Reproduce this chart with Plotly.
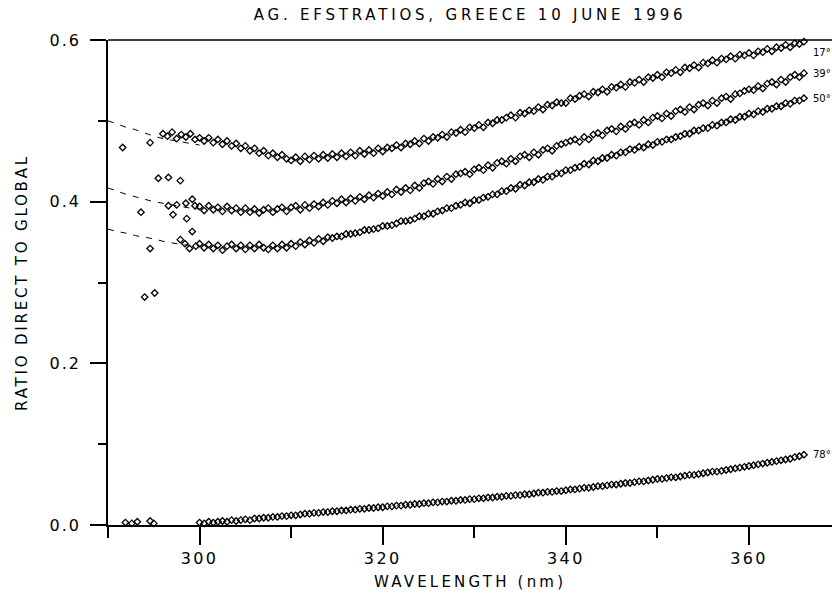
import numpy as np
import plotly.graph_objects as go

# Wavelength grid of the measured spectra (nm)
wavelength = np.arange(300.0, 366.01, 0.5)

# Direct-to-global irradiance ratio, one list per solar zenith angle
ratio_17 = [
    0.479, 0.475, 0.479, 0.473, 0.477, 0.471, 0.475, 0.469, 0.472, 0.466,
    0.469, 0.463, 0.466, 0.460, 0.463, 0.457, 0.460, 0.455, 0.458, 0.453,
    0.451, 0.455, 0.450, 0.456, 0.452, 0.457, 0.453, 0.458, 0.454, 0.459,
    0.455, 0.460, 0.456, 0.461, 0.457, 0.463, 0.459, 0.464, 0.460, 0.466,
    0.462, 0.467, 0.466, 0.470, 0.467, 0.472, 0.471, 0.475, 0.472, 0.478,
    0.475, 0.480, 0.479, 0.483, 0.480, 0.486, 0.485, 0.489, 0.486, 0.492,
    0.491, 0.495, 0.492, 0.498, 0.497, 0.501, 0.501, 0.504, 0.507, 0.504,
    0.510, 0.509, 0.513, 0.512, 0.517, 0.514, 0.520, 0.519, 0.523, 0.522,
    0.522, 0.528, 0.527, 0.531, 0.533, 0.530, 0.536, 0.535, 0.539, 0.536,
    0.542, 0.541, 0.545, 0.542, 0.548, 0.547, 0.551, 0.548, 0.554, 0.553,
    0.557, 0.554, 0.560, 0.559, 0.563, 0.560, 0.566, 0.565, 0.569, 0.566,
    0.572, 0.571, 0.575, 0.572, 0.577, 0.576, 0.580, 0.577, 0.582, 0.581,
    0.584, 0.581, 0.586, 0.585, 0.589, 0.586, 0.591, 0.590, 0.594, 0.591,
    0.596, 0.595, 0.598,
]
ratio_39 = [
    0.394, 0.389, 0.395, 0.390, 0.393, 0.388, 0.394, 0.389, 0.392, 0.387,
    0.392, 0.387, 0.391, 0.386, 0.390, 0.392, 0.387, 0.391, 0.393, 0.388,
    0.393, 0.395, 0.390, 0.396, 0.392, 0.397, 0.394, 0.399, 0.396, 0.401,
    0.398, 0.403, 0.399, 0.404, 0.401, 0.406, 0.403, 0.408, 0.405, 0.410,
    0.407, 0.412, 0.409, 0.415, 0.412, 0.417, 0.414, 0.420, 0.417, 0.423,
    0.425, 0.422, 0.428, 0.425, 0.431, 0.428, 0.434, 0.435, 0.437, 0.434,
    0.440, 0.442, 0.439, 0.445, 0.442, 0.448, 0.450, 0.447, 0.453, 0.450,
    0.456, 0.458, 0.455, 0.461, 0.458, 0.464, 0.466, 0.463, 0.469, 0.471,
    0.473, 0.475, 0.477, 0.474, 0.480, 0.477, 0.483, 0.485, 0.482, 0.488,
    0.490, 0.487, 0.493, 0.490, 0.496, 0.498, 0.495, 0.501, 0.498, 0.504,
    0.506, 0.503, 0.509, 0.506, 0.512, 0.514, 0.511, 0.517, 0.514, 0.520,
    0.522, 0.519, 0.525, 0.522, 0.528, 0.530, 0.527, 0.533, 0.534, 0.537,
    0.539, 0.538, 0.543, 0.540, 0.546, 0.548, 0.545, 0.551, 0.548, 0.554,
    0.557, 0.554, 0.559,
]
ratio_50 = [
    0.348, 0.343, 0.347, 0.342, 0.346, 0.340, 0.345, 0.347, 0.342, 0.346,
    0.341, 0.346, 0.342, 0.347, 0.343, 0.341, 0.346, 0.342, 0.347, 0.343,
    0.348, 0.345, 0.350, 0.347, 0.352, 0.349, 0.354, 0.351, 0.356, 0.355,
    0.357, 0.357, 0.360, 0.360, 0.361, 0.362, 0.365, 0.365, 0.366, 0.367,
    0.370, 0.370, 0.371, 0.373, 0.376, 0.376, 0.377, 0.379, 0.382, 0.382,
    0.385, 0.385, 0.388, 0.389, 0.392, 0.392, 0.395, 0.396, 0.399, 0.398,
    0.402, 0.402, 0.405, 0.406, 0.409, 0.409, 0.413, 0.413, 0.417, 0.416,
    0.421, 0.420, 0.424, 0.424, 0.428, 0.427, 0.431, 0.431, 0.435, 0.435,
    0.439, 0.439, 0.442, 0.443, 0.447, 0.446, 0.451, 0.450, 0.454, 0.454,
    0.458, 0.457, 0.461, 0.461, 0.465, 0.464, 0.468, 0.467, 0.471, 0.470,
    0.474, 0.474, 0.477, 0.477, 0.480, 0.481, 0.484, 0.484, 0.488, 0.488,
    0.491, 0.491, 0.495, 0.494, 0.498, 0.498, 0.502, 0.501, 0.505, 0.505,
    0.509, 0.508, 0.512, 0.511, 0.515, 0.515, 0.518, 0.518, 0.522, 0.521,
    0.525, 0.525, 0.528,
]
ratio_78 = [
    0.003, 0.002, 0.004, 0.003, 0.004, 0.005, 0.004, 0.006, 0.005, 0.006,
    0.007, 0.006, 0.008, 0.008, 0.009, 0.009, 0.010, 0.010, 0.011, 0.011,
    0.012, 0.012, 0.013, 0.014, 0.014, 0.015, 0.015, 0.016, 0.016, 0.017,
    0.017, 0.018, 0.018, 0.019, 0.019, 0.020, 0.020, 0.021, 0.021, 0.022,
    0.022, 0.023, 0.023, 0.024, 0.024, 0.025, 0.025, 0.026, 0.026, 0.027,
    0.027, 0.028, 0.028, 0.029, 0.029, 0.030, 0.030, 0.031, 0.031, 0.032,
    0.032, 0.033, 0.033, 0.034, 0.034, 0.035, 0.035, 0.036, 0.036, 0.037,
    0.037, 0.038, 0.038, 0.039, 0.040, 0.040, 0.041, 0.041, 0.042, 0.042,
    0.043, 0.044, 0.044, 0.045, 0.046, 0.046, 0.047, 0.048, 0.048, 0.049,
    0.050, 0.050, 0.051, 0.052, 0.052, 0.053, 0.054, 0.054, 0.055, 0.056,
    0.057, 0.057, 0.058, 0.059, 0.059, 0.060, 0.061, 0.062, 0.062, 0.063,
    0.064, 0.065, 0.066, 0.066, 0.067, 0.068, 0.069, 0.070, 0.071, 0.072,
    0.073, 0.074, 0.075, 0.076, 0.077, 0.078, 0.079, 0.080, 0.081, 0.082,
    0.084, 0.085, 0.087,
]

# Short-wavelength measurements (noisy, below 300 nm)
short_wl_17 = [291.6, 294.6, 295.5, 296.0, 296.5, 296.6, 297.0, 297.5, 297.9, 298.0, 298.5, 299.0, 299.5]
short_17 = [0.467, 0.473, 0.429, 0.484, 0.481, 0.430, 0.486, 0.478, 0.426, 0.483, 0.480, 0.484, 0.477]
short_wl_39 = [293.6, 296.6, 297.1, 297.5, 298.5, 298.6, 299.2, 299.5]
short_39 = [0.387, 0.395, 0.384, 0.396, 0.398, 0.379, 0.403, 0.395]
short_wl_50 = [294.0, 294.6, 295.1, 297.9, 298.4, 298.9, 299.2, 299.6]
short_50 = [0.282, 0.342, 0.287, 0.353, 0.348, 0.342, 0.363, 0.345]
short_wl_78 = [291.9, 292.6, 293.2, 294.6, 295.0]
short_78 = [0.003, 0.002, 0.004, 0.005, 0.002]

# Model curves extrapolated below 300 nm (dashed)
model_wl = [290, 291, 292, 293, 294, 295, 296, 297, 298, 299, 300]
model_17 = [0.500, 0.496, 0.492, 0.489, 0.485, 0.481, 0.478, 0.476, 0.474, 0.472, 0.470]
model_39 = [0.417, 0.413, 0.409, 0.406, 0.403, 0.400, 0.398, 0.396, 0.394, 0.392, 0.391]
model_50 = [0.366, 0.363, 0.361, 0.358, 0.356, 0.354, 0.351, 0.349, 0.347, 0.346, 0.345]

# Zenith angle labels at the right end of each curve
angle_labels = ["17°", "39°", "50°", "78°"]
label_x = 366.8
label_y = [0.585, 0.559, 0.528, 0.087]

FONT = "DejaVu Sans, Verdana, sans-serif"
marker = dict(symbol="diamond-open", size=5, color="black", line=dict(width=1.3, color="black"))

fig = go.Figure()

for wl_s, val_s, vals in [
    (short_wl_17, short_17, ratio_17),
    (short_wl_39, short_39, ratio_39),
    (short_wl_50, short_50, ratio_50),
    (short_wl_78, short_78, ratio_78),
]:
    fig.add_trace(go.Scatter(x=wavelength, y=vals, mode="markers", marker=marker,
                             cliponaxis=False, showlegend=False))
    fig.add_trace(go.Scatter(x=wl_s, y=val_s, mode="markers", marker=marker,
                             cliponaxis=False, showlegend=False))

for model in (model_17, model_39, model_50):
    fig.add_trace(go.Scatter(x=model_wl, y=model, mode="lines",
                             line=dict(color="black", width=1, dash="6px,7px"),
                             showlegend=False))

for text, yv in zip(angle_labels, label_y):
    fig.add_annotation(x=label_x, xref="x", xanchor="left",
                       y=yv, yref="y", yanchor="middle", text=text,
                       showarrow=False, font=dict(family=FONT, size=10, color="black"))

# X-axis caption, centred under the visible part of the axis
fig.add_annotation(text="WAVELENGTH (nm)", xref="paper", x=(470 - 108) / 742, xanchor="center",
                   yref="paper", y=0, yanchor="top", yshift=-46, showarrow=False,
                   font=dict(family=FONT, size=15, color="black"))

# Frame line along the top of the plotting area
fig.add_shape(type="line", xref="paper", yref="paper", x0=0, x1=1, y0=1, y1=1,
              line=dict(color="black", width=1.5))

# The plotting area runs on past the right edge of the 832 px view
fig.update_layout(
    width=850, height=600,
    margin=dict(l=108, r=0, t=40, b=75),
    paper_bgcolor="white", plot_bgcolor="white",
    title=dict(text="AG. EFSTRATIOS, GREECE 10 JUNE 1996", x=470 / 850, xanchor="center",
               y=0.975, yref="container", yanchor="middle",
               font=dict(family=FONT, size=15, color="black")),
    font=dict(family=FONT, color="black"),
)

fig.update_xaxes(
    range=[290, 371.03], showgrid=False, zeroline=False,
    showline=True, linecolor="black", linewidth=1.5, mirror=False,
    ticks="outside", tick0=300, dtick=20, ticklen=18, tickwidth=1.5, tickcolor="black",
    minor=dict(ticks="outside", tick0=290, dtick=10, ticklen=11, tickwidth=1.5, tickcolor="black"),
    tickfont=dict(family=FONT, size=16, color="black"),
)
fig.update_yaxes(
    range=[0, 0.6], showgrid=False, zeroline=False,
    showline=True, linecolor="black", linewidth=1.5, mirror=False,
    ticks="outside", tick0=0, dtick=0.2, tickformat=".1f", ticklen=16, tickwidth=1.5, tickcolor="black",
    minor=dict(ticks="outside", tick0=0, dtick=0.1, ticklen=8, tickwidth=1.5, tickcolor="black"),
    tickfont=dict(family=FONT, size=16, color="black"),
    ticklabelstandoff=6,
    title=dict(text="RATIO DIRECT TO GLOBAL", font=dict(family=FONT, size=15, color="black"), standoff=24),
)

# Wide letter spacing for the lettering; the page itself does not scroll
page_js = """
document.documentElement.style.overflow = 'hidden';
document.body.style.overflow = 'hidden';
var gd = document.querySelector('.plotly-graph-div');
function spread(sel, px) {
  gd.querySelectorAll(sel).forEach(function (t) { t.style.letterSpacing = px; });
}
spread('.gtitle', '3.8px');
spread('.xtick text', '2.4px');
spread('.ytick text', '2px');
spread('.ytitle', '2.8px');
gd.querySelectorAll('.annotation-text').forEach(function (t) {
  if (t.textContent.indexOf('WAVELENGTH') === 0) { t.style.letterSpacing = '3.2px'; }
});
"""

fig.write_html("out.html", post_script=page_js)
